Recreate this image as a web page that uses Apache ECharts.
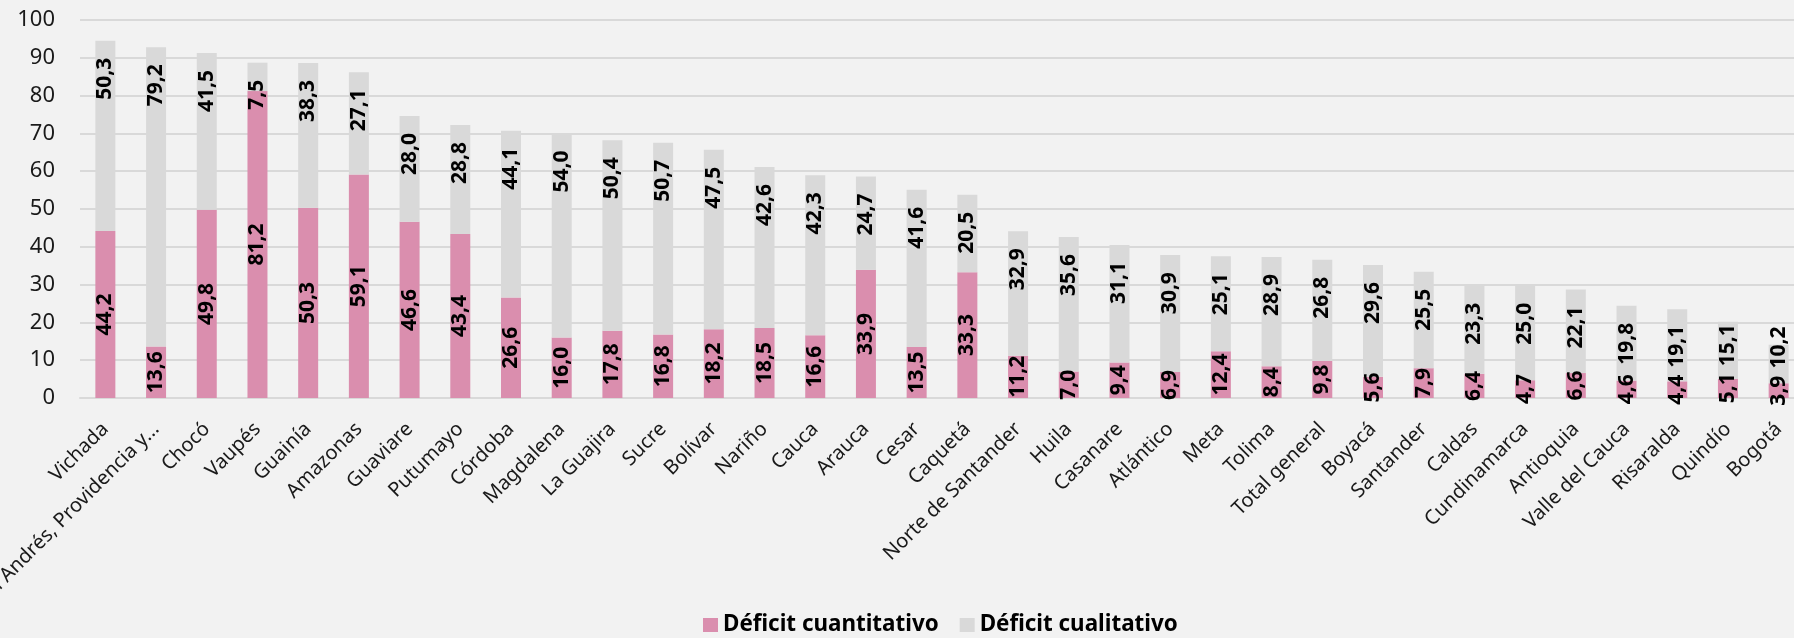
<!DOCTYPE html>
<html>
<head>
<meta charset="utf-8">
<script src="https://cdn.jsdelivr.net/npm/echarts@6/dist/echarts.min.js"></script>
<style>
html,body{margin:0;padding:0;background:#f2f2f2;}
#c{width:1794px;height:638px;}
</style>
</head>
<body>
<div id="c"></div>
<script>
const categories = ["Vichada","San Andrés, Providencia y Santa Catalina","Chocó","Vaupés","Guainía","Amazonas","Guaviare","Putumayo","Córdoba","Magdalena","La Guajira","Sucre","Bolívar","Nariño","Cauca","Arauca","Cesar","Caquetá","Norte de Santander","Huila","Casanare","Atlántico","Meta","Tolima","Total general","Boyacá","Santander","Caldas","Cundinamarca","Antioquia","Valle del Cauca","Risaralda","Quindío","Bogotá"];
const cuantitativo = [44.2,13.6,49.8,81.2,50.3,59.1,46.6,43.4,26.6,16.0,17.8,16.8,18.2,18.5,16.6,33.9,13.5,33.3,11.2,7.0,9.4,6.9,12.4,8.4,9.8,5.6,7.9,6.4,4.7,6.6,4.6,4.4,5.1,3.9];
const cualitativo = [50.3,79.2,41.5,7.5,38.3,27.1,28.0,28.8,44.1,54.0,50.4,50.7,47.5,42.6,42.3,24.7,41.6,20.5,32.9,35.6,31.1,30.9,25.1,28.9,26.8,29.6,25.5,23.3,25.0,22.1,19.8,19.1,15.1,10.2];
const yTicks = {min:0, max:100, interval:10};
const seriesNames = ["Déficit cuantitativo","Déficit cualitativo"];

const FONT = "'Noto Sans', 'DejaVu Sans', sans-serif";
const LABEL_SIZE = 21;
const fmtNum = v => v.toFixed(1).replace('.', ',');
const fmt = p => fmtNum(p.value);

const chart = echarts.init(document.getElementById('c'));
chart.setOption({
  backgroundColor:'#f2f2f2',
  animation:false,
  textStyle:{fontFamily:FONT},
  grid:{left:80, top:20, width:1724, bottom:240, containLabel:false, outerBoundsMode:'none'},
  legend:{
    left:703, top:614, padding:0, itemWidth:15, itemHeight:14, itemGap:21,
    icon:'rect',
    textStyle:{fontFamily:FONT, fontSize:22.4, fontWeight:'bold', color:'#000'},
    data:seriesNames
  },
  xAxis:{
    type:'category', data:categories,
    axisLine:{show:true, lineStyle:{color:'#d9d9d9', width:2}},
    axisTick:{show:false},
    axisLabel:{
      interval:0, rotate:45, margin:28, fontSize:20, color:'#1a1a1a', fontFamily:FONT,
      align:'right', verticalAlign:'middle',
      formatter: v => v.length > 26 ? v.slice(0,25) + '...' : v
    }
  },
  yAxis:{
    type:'value', min:yTicks.min, max:yTicks.max, interval:yTicks.interval,
    axisLine:{show:false}, axisTick:{show:false},
    splitLine:{lineStyle:{color:'#d9d9d9', width:2}},
    axisLabel:{fontSize:22, color:'#1a1a1a', margin:25, fontFamily:FONT}
  },
  series:[
    {
      name:seriesNames[0], type:'bar', stack:'t', data:cuantitativo, barWidth:20,
      itemStyle:{color:'#da8eae'},
      label:{show:true, position:'inside', rotate:90, formatter:fmt,
        fontSize:LABEL_SIZE, fontWeight:'bold', color:'#000', fontFamily:FONT}
    },
    {
      name:seriesNames[1], type:'bar', stack:'t', data:cualitativo, barWidth:20,
      itemStyle:{color:'#d9d9d9'},
      label:{show:true, position:['50%', 17], rotate:90, align:'right', verticalAlign:'middle',
        formatter:fmt, fontSize:LABEL_SIZE, fontWeight:'bold', color:'#000', fontFamily:FONT}
    }
  ]
});

// Keep each top-segment label clear of the bottom-segment label (as the source chart does).
const ctx = document.createElement('canvas').getContext('2d');
ctx.font = 'bold ' + LABEL_SIZE + 'px ' + FONT;
const yPx = v => chart.convertToPixel({yAxisIndex:0}, v);
const GAP = 7;
const grayData = cualitativo.map((v, i) => {
  const barTop = yPx(cuantitativo[i] + v);
  const Lg = ctx.measureText(fmtNum(v)).width;
  const Lp = ctx.measureText(fmtNum(cuantitativo[i])).width;
  const pinkTop = yPx(cuantitativo[i] / 2) - Lp / 2;
  const off = Math.min(17, (pinkTop - GAP - Lg) - barTop);
  return { value: v, label: { position: ['50%', off] } };
});
chart.setOption({ series:[{}, { data: grayData }] });
</script>
</body>
</html>
